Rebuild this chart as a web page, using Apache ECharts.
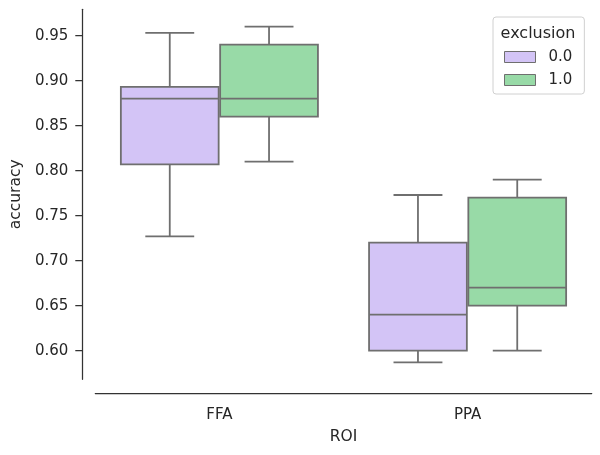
<!DOCTYPE html>
<html>
<head>
<meta charset="utf-8">
<script src="https://cdn.jsdelivr.net/npm/echarts@6/dist/echarts.min.js"></script>
<style>html,body{margin:0;padding:0;background:#fff;}#c{width:600px;height:455px;}</style>
</head>
<body>
<div id="c"></div>
<script>
// ---- data ----
const categories = ['FFA', 'PPA'];
const hueLabels = ['0.0', '1.0'];
// [min whisker, Q1, median, Q3, max whisker] per category
const exclusion0 = [
  [0.727, 0.807, 0.880, 0.893, 0.953],
  [0.587, 0.600, 0.640, 0.720, 0.773]
];
const exclusion1 = [
  [0.810, 0.860, 0.880, 0.940, 0.960],
  [0.600, 0.650, 0.670, 0.770, 0.790]
];
const yTicks = [0.60, 0.65, 0.70, 0.75, 0.80, 0.85, 0.90, 0.95];

// ---- styles ----
const FONT = 'DejaVu Sans';
const TXT = '#262626';
const AX = '#333333';
const LINE = '#6f6f6f';
const COLORS = ['#d3c4f6', '#98daa7'];

function makeRender(hueIndex, nHue) {
  return function (params, api) {
    const ci = api.value(0);
    const band = api.size([1, 0])[0];
    const slot = band * 0.8 / nHue;
    const cx = api.coord([ci, api.value(3)])[0] + (hueIndex - (nHue - 1) / 2) * slot;
    const half = slot / 2 * 0.985;
    const yMin = api.coord([ci, api.value(1)])[1];
    const yQ1 = api.coord([ci, api.value(2)])[1];
    const yMed = api.coord([ci, api.value(3)])[1];
    const yQ3 = api.coord([ci, api.value(4)])[1];
    const yMax = api.coord([ci, api.value(5)])[1];
    const ls = { stroke: LINE, lineWidth: 1.8 };
    return {
      type: 'group',
      children: [
        { type: 'rect', shape: { x: cx - half, y: yQ3, width: 2 * half, height: yQ1 - yQ3 },
          style: { fill: COLORS[hueIndex], stroke: LINE, lineWidth: 1.8 } },
        { type: 'line', shape: { x1: cx, y1: yQ3, x2: cx, y2: yMax }, style: ls },
        { type: 'line', shape: { x1: cx, y1: yQ1, x2: cx, y2: yMin }, style: ls },
        { type: 'line', shape: { x1: cx - half / 2, y1: yMax, x2: cx + half / 2, y2: yMax }, style: ls },
        { type: 'line', shape: { x1: cx - half / 2, y1: yMin, x2: cx + half / 2, y2: yMin }, style: ls },
        { type: 'line', shape: { x1: cx - half, y1: yMed, x2: cx + half, y2: yMed }, style: ls }
      ]
    };
  };
}

function toData(arr) {
  return arr.map((v, i) => [i].concat(v));
}

const chart = echarts.init(document.getElementById('c'), null, { renderer: 'canvas' });
chart.setOption({
  animation: false,
  backgroundColor: '#ffffff',
  textStyle: { fontFamily: FONT },
  grid: { left: 94, right: 8.3, top: 9.3, bottom: 75.7, containLabel: false },
  title: {
    text: 'exclusion', left: 538, top: 25.5, textAlign: 'center', padding: 0,
    textStyle: { fontFamily: FONT, fontSize: 16, fontWeight: 'normal', color: TXT }
  },
  legend: {
    orient: 'vertical', left: 493, top: 17,
    padding: [32, 12, 6, 11], itemGap: 7,
    itemWidth: 31, itemHeight: 11, icon: 'rect',
    borderColor: '#d0d0d0', borderWidth: 1, borderRadius: 3,
    backgroundColor: 'rgba(255,255,255,0.8)',
    itemStyle: { borderColor: LINE, borderWidth: 1 },
    textStyle: { fontFamily: FONT, fontSize: 15, color: TXT, lineHeight: 16, padding: [0, 0, 0, 8] },
    data: hueLabels
  },
  xAxis: {
    type: 'category', data: categories, boundaryGap: true,
    offset: 13.7,
    name: 'ROI', nameLocation: 'middle', nameGap: 35.5,
    nameTextStyle: { fontFamily: FONT, fontSize: 15.5, color: TXT },
    axisLine: { lineStyle: { color: AX, width: 1.25 } },
    axisTick: { alignWithLabel: true, length: 7, lineStyle: { color: AX, width: 1.25 } },
    axisLabel: { fontFamily: FONT, fontSize: 15, color: TXT, margin: 15 },
    splitLine: { show: false }
  },
  yAxis: {
    type: 'value', min: 0.5682, max: 0.9793,
    offset: 13,
    name: 'accuracy', nameLocation: 'middle', nameGap: 46, nameRotate: 90,
    nameTextStyle: { fontFamily: FONT, fontSize: 15.5, color: TXT },
    axisLine: { show: true, lineStyle: { color: AX, width: 1.25 } },
    axisTick: { show: true, length: 7, customValues: yTicks, lineStyle: { color: AX, width: 1.25 } },
    axisLabel: { fontFamily: FONT, fontSize: 15, color: TXT, margin: 14, customValues: yTicks,
      formatter: v => v.toFixed(2) },
    splitLine: { show: false }
  },
  series: [
    { name: hueLabels[0], type: 'custom', renderItem: makeRender(0, 2),
      itemStyle: { color: COLORS[0] },
      encode: { x: 0, y: [1, 2, 3, 4, 5] }, data: toData(exclusion0) },
    { name: hueLabels[1], type: 'custom', renderItem: makeRender(1, 2),
      itemStyle: { color: COLORS[1] },
      encode: { x: 0, y: [1, 2, 3, 4, 5] }, data: toData(exclusion1) }
  ]
});
</script>
</body>
</html>
